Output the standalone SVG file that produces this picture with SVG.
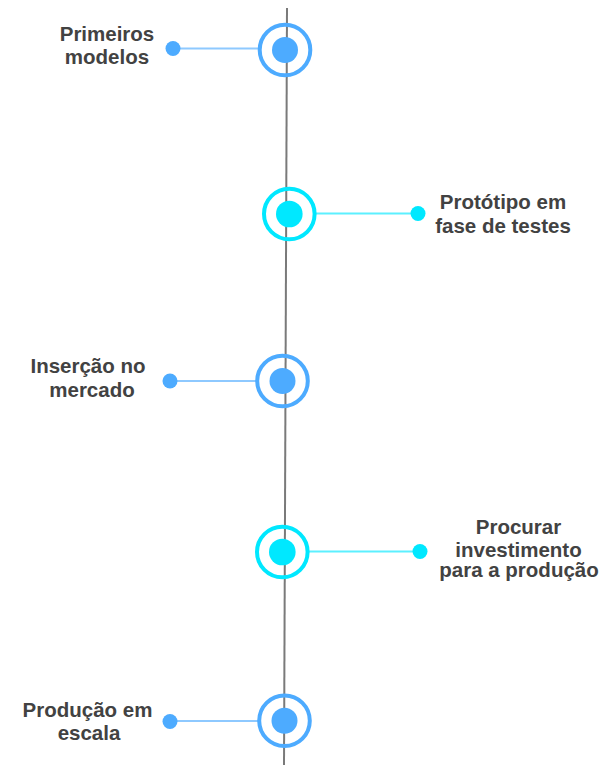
<svg xmlns="http://www.w3.org/2000/svg" width="615" height="777" viewBox="0 0 615 777">
<style>
.lbl{font-family:"Liberation Sans",Arial,sans-serif;font-weight:bold;font-size:20.5px;fill:#424242;text-anchor:middle}
.ringB{fill:none;stroke:#4dabff;stroke-width:4}
.ringC{fill:none;stroke:#00e8ff;stroke-width:4}
.dotB{fill:#4dabff}
.dotC{fill:#00e8ff}
.lnB{stroke:#8ec9ff;stroke-width:2;fill:none}
.lnC{stroke:#5cf0ff;stroke-width:2;fill:none}
</style>
<rect width="615" height="777" fill="#ffffff"/>
<g id="connectors">
<line x1="287" y1="8" x2="284" y2="765" stroke="#7a7a7a" stroke-width="2"/>
<line class="lnB" x1="173" y1="48.5" x2="260" y2="48.5"/>
<line class="lnC" x1="315" y1="213.5" x2="418" y2="213.5"/>
<line class="lnB" x1="170" y1="381" x2="257" y2="381"/>
<line class="lnC" x1="308" y1="551.5" x2="420" y2="551.5"/>
<line class="lnB" x1="170" y1="721" x2="259" y2="721"/>
</g>
<g id="node1">
<circle class="ringB" cx="285" cy="50" r="25.3"/>
<circle class="dotB" cx="285" cy="50" r="13"/>
<circle class="dotB" cx="173" cy="48.5" r="7.5"/>
<text class="lbl" x="107" y="40.5">Primeiros</text>
<text class="lbl" x="107" y="64">modelos</text>
</g>
<g id="node2">
<circle class="ringC" cx="289.3" cy="214" r="25.3"/>
<circle class="dotC" cx="289.3" cy="214" r="13.3"/>
<circle class="dotC" cx="418" cy="213.5" r="7.5"/>
<text class="lbl" x="503" y="209.3">Protótipo em</text>
<text class="lbl" x="503" y="233.3">fase de testes</text>
</g>
<g id="node3">
<circle class="ringB" cx="282.5" cy="381" r="25.3"/>
<circle class="dotB" cx="282.5" cy="381" r="13"/>
<circle class="dotB" cx="170" cy="381" r="7.5"/>
<text class="lbl" x="88" y="373.3">Inserção no</text>
<text class="lbl" x="92" y="396.7">mercado</text>
</g>
<g id="node4">
<circle class="ringC" cx="282.3" cy="552" r="25.3"/>
<circle class="dotC" cx="282.3" cy="552" r="13.3"/>
<circle class="dotC" cx="420" cy="551.5" r="7.5"/>
<text class="lbl" x="518.5" y="534.3">Procurar</text>
<text class="lbl" x="518.5" y="556.7">investimento</text>
<text class="lbl" x="519" y="577">para a produção</text>
</g>
<g id="node5">
<circle class="ringB" cx="284.5" cy="720.7" r="25.3"/>
<circle class="dotB" cx="284.5" cy="720.7" r="13"/>
<circle class="dotB" cx="170" cy="721.5" r="7.5"/>
<text class="lbl" x="87.5" y="716.7">Produção em</text>
<text class="lbl" x="89" y="740">escala</text>
</g>
</svg>
